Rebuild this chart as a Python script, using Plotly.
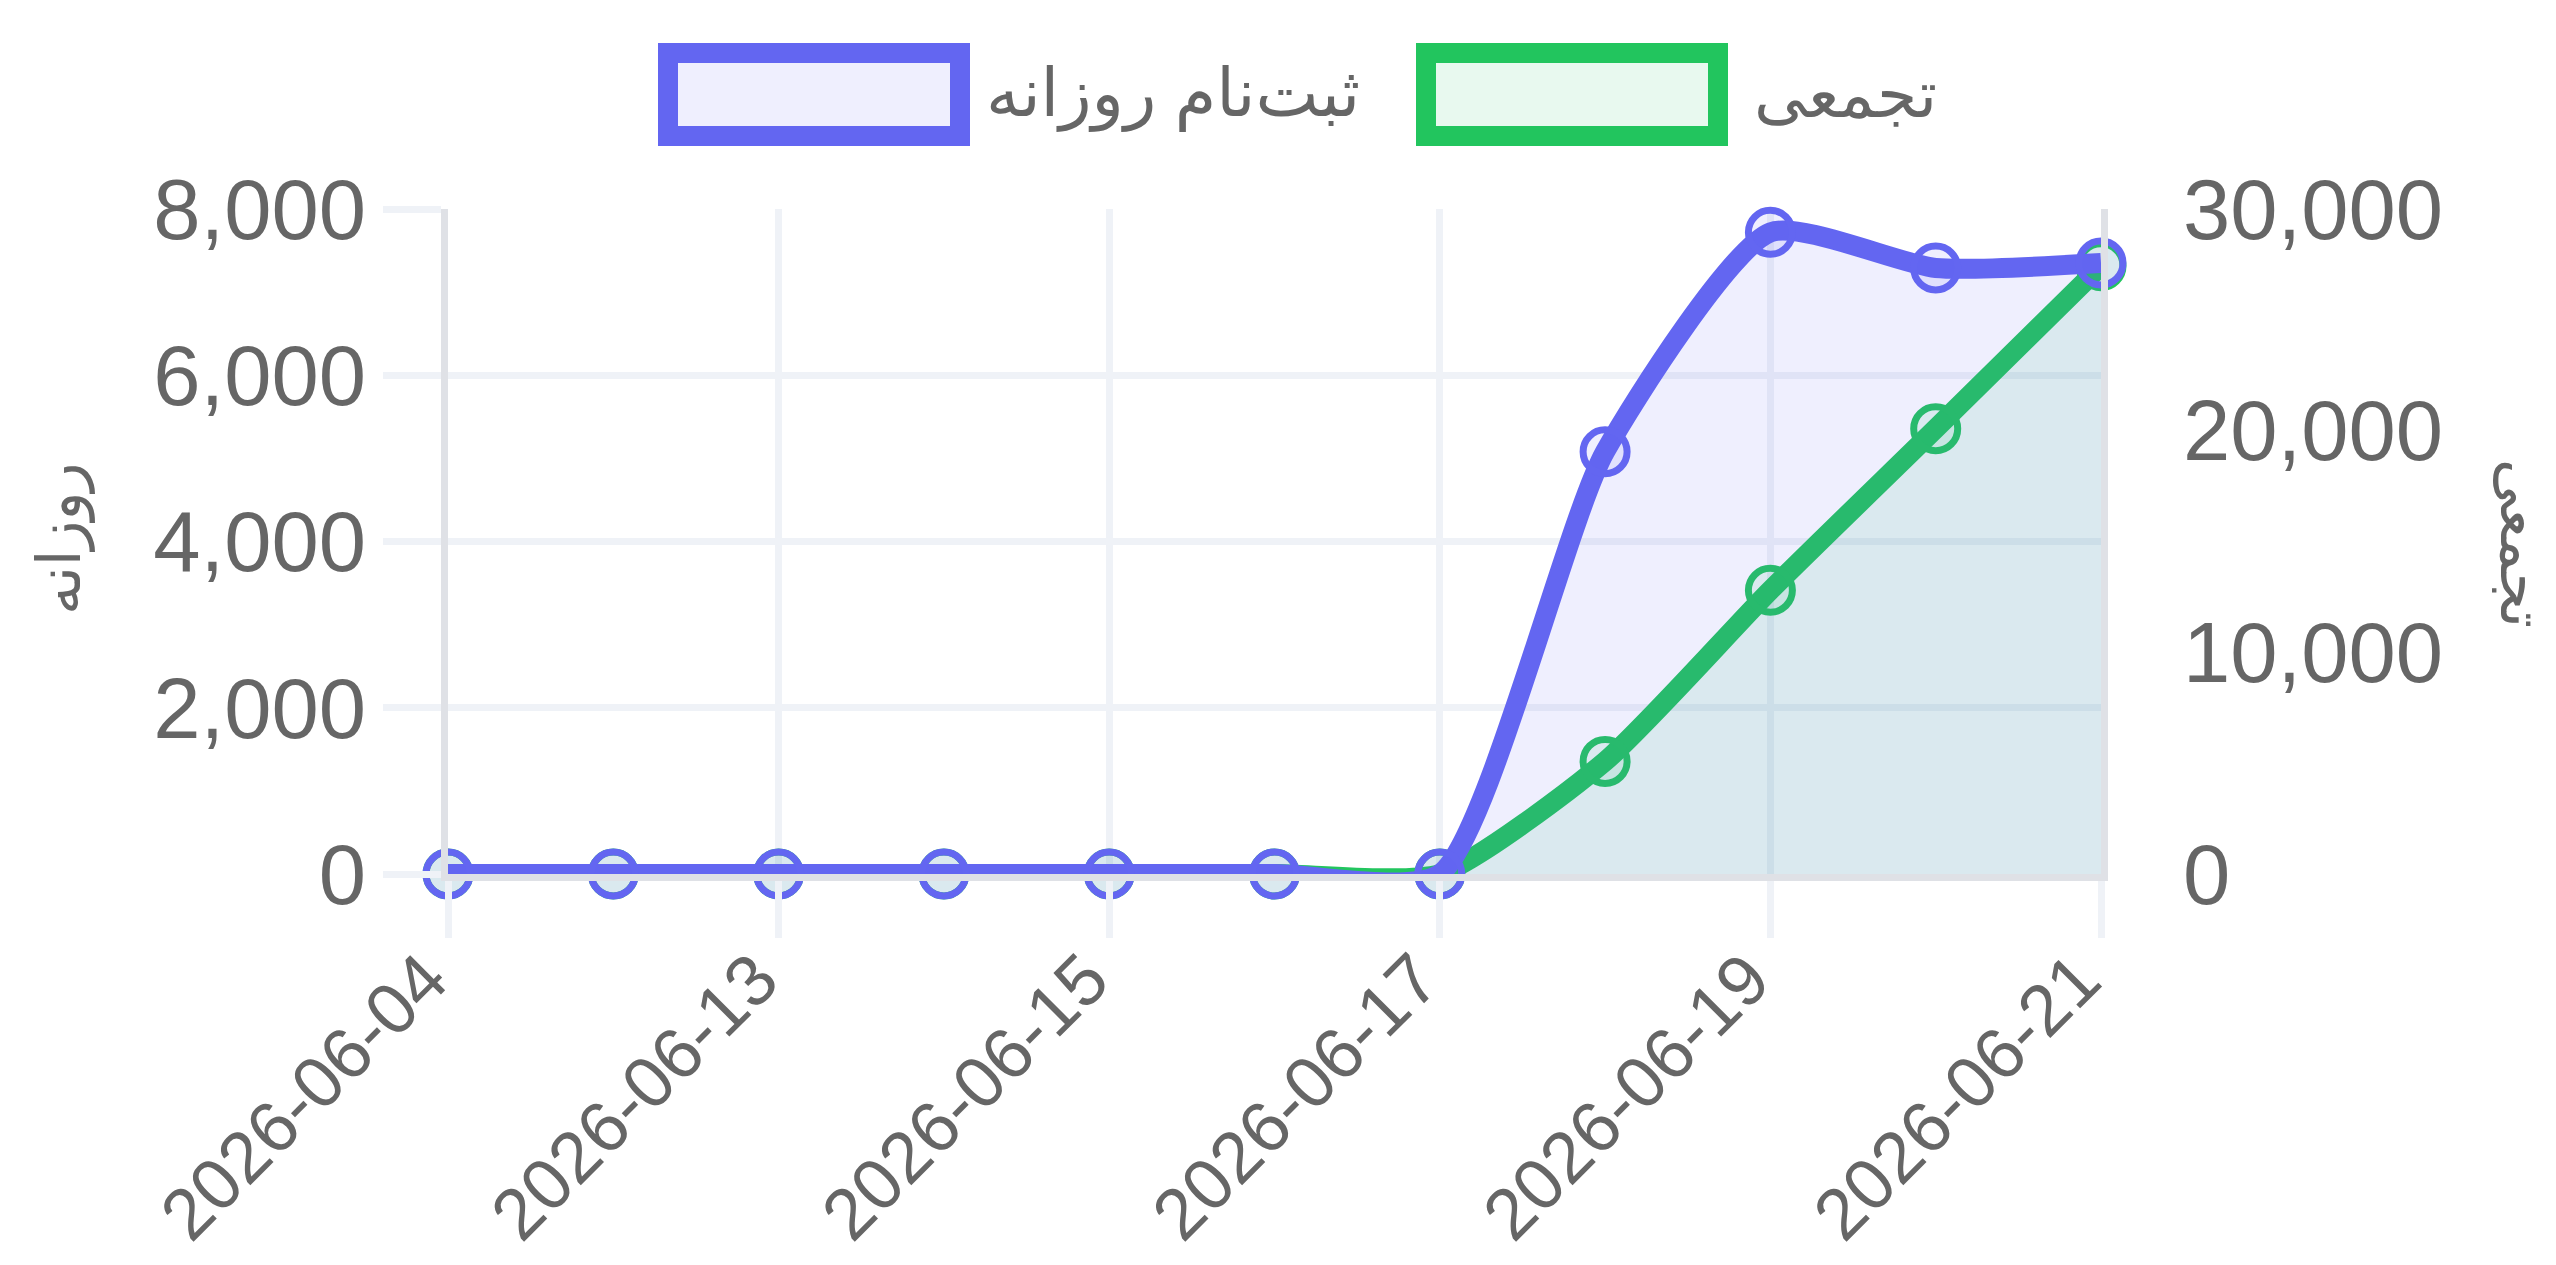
import plotly.graph_objects as go

# ---- data ----
dates = ["2026-06-04", "2026-06-12", "2026-06-13", "2026-06-14", "2026-06-15", "2026-06-16",
         "2026-06-17", "2026-06-18", "2026-06-19", "2026-06-20", "2026-06-21"]
daily = [0, 0, 0, 0, 0, 0, 0, 5080, 7720, 7290, 7350]
cumulative = [0, 0, 0, 0, 0, 0, 0, 5080, 12800, 20090, 27440]
shown_ticks = ["2026-06-04", "2026-06-13", "2026-06-15", "2026-06-17", "2026-06-19", "2026-06-21"]
daily_name = "ثبت‌نام روزانه"
cum_name = "تجمعی"
left_title = "روزانه"
right_title = "تجمعی"

# ---- style ----
W, H = 2556, 1265
L, R, T, B = 440, 2093, 201, 866
BLUE = "#6366f1"
GREEN = "#22c55e"
BLUE_FILL = "rgba(99,102,241,0.1)"
GREEN_FILL = "rgba(34,197,94,0.1)"
GRID = "#eff2f7"
BORDER = "#dfe1e6"
TXT = "#666666"
FONT = "Liberation Sans, Arial, DejaVu Sans, sans-serif"
FS = 85
SMOOTH = 0.6


def px(xp):
    return (xp - L) / (R - L)


def py(yp):
    return (B - yp) / (B - T)


fig = go.Figure()
fig.add_trace(go.Scatter(
    x=dates, y=cumulative, name=cum_name, yaxis="y",
    mode="lines+markers", line=dict(color=GREEN, width=20, shape="spline", smoothing=SMOOTH),
    fill="tozeroy", fillcolor=GREEN_FILL,
    marker=dict(size=44, color=GREEN_FILL, line=dict(color=GREEN, width=7)),
    cliponaxis=False, showlegend=False,
))
fig.add_trace(go.Scatter(
    x=dates, y=daily, name=daily_name, yaxis="y2",
    mode="lines+markers", line=dict(color=BLUE, width=20, shape="spline", smoothing=SMOOTH),
    fill="tozeroy", fillcolor=BLUE_FILL,
    marker=dict(size=44, color=BLUE_FILL, line=dict(color=BLUE, width=7)),
    cliponaxis=False, showlegend=False,
))

shapes = []
annotations = []
# legend boxes
for (x0, x1, line_c, fill_c) in [(660, 952, BLUE, BLUE_FILL), (1418, 1710, GREEN, GREEN_FILL)]:
    shapes.append(dict(type="rect", xref="paper", yref="paper",
                       x0=px(x0), x1=px(x1), y0=py(128), y1=py(45),
                       line=dict(color=line_c, width=20), fillcolor=fill_c, layer="above"))
annotations.append(dict(xref="paper", yref="paper", x=px(976), y=py(86), xanchor="left", yanchor="middle",
                        text=daily_name, showarrow=False, font=dict(size=67, color=TXT, family=FONT)))
annotations.append(dict(xref="paper", yref="paper", x=px(1744), y=py(86), xanchor="left", yanchor="middle",
                        text=cum_name, showarrow=False, font=dict(size=65, color=TXT, family=FONT)))
# axis titles
annotations.append(dict(xref="paper", yref="paper", x=px(52), y=py(531), xanchor="center", yanchor="middle",
                        text=left_title, textangle=-90, showarrow=False,
                        font=dict(size=60, color=TXT, family=FONT)))
annotations.append(dict(xref="paper", yref="paper", x=px(2514), y=py(535), xanchor="center", yanchor="middle",
                        text=right_title, textangle=90, showarrow=False,
                        font=dict(size=60, color=TXT, family=FONT)))

fig.update_layout(
    width=W, height=H, autosize=False,
    margin=dict(l=L, r=W - R, t=T, b=H - B, pad=0, autoexpand=False),
    paper_bgcolor="white", plot_bgcolor="white",
    font=dict(family=FONT, color=TXT, size=FS),
    showlegend=False,
    xaxis=dict(type="category", categoryorder="array", categoryarray=dates,
               range=[0, len(dates) - 1], tickvals=shown_ticks, ticktext=shown_ticks,
               tickangle=-45, tickfont=dict(size=72, color=TXT), automargin=False,
               ticklabelstandoff=-30, ticklabelshift=-22,
               showgrid=True, gridcolor=GRID, gridwidth=7,
               ticks="outside", ticklen=57, tickwidth=7, tickcolor=GRID,
               showline=True, linecolor=BORDER, linewidth=7, zeroline=False),
    yaxis=dict(side="right", range=[0, 30000], dtick=10000, tickformat=",", automargin=False,
               showgrid=False, zeroline=False, showline=True, linecolor=BORDER, linewidth=7,
               ticks="outside", ticklen=58, tickwidth=7, tickcolor="rgba(0,0,0,0)",
               tickfont=dict(size=FS, color=TXT)),
    yaxis2=dict(overlaying="y", side="left", range=[0, 8000], dtick=2000, tickformat=",",
                automargin=False,
                showgrid=True, gridcolor=GRID, gridwidth=7, zeroline=False,
                showline=True, linecolor=BORDER, linewidth=7,
                ticks="outside", ticklen=58, tickwidth=7, tickcolor=GRID,
                tickfont=dict(size=FS, color=TXT)),
    shapes=shapes, annotations=annotations,
)

fig.write_html("out.html")
